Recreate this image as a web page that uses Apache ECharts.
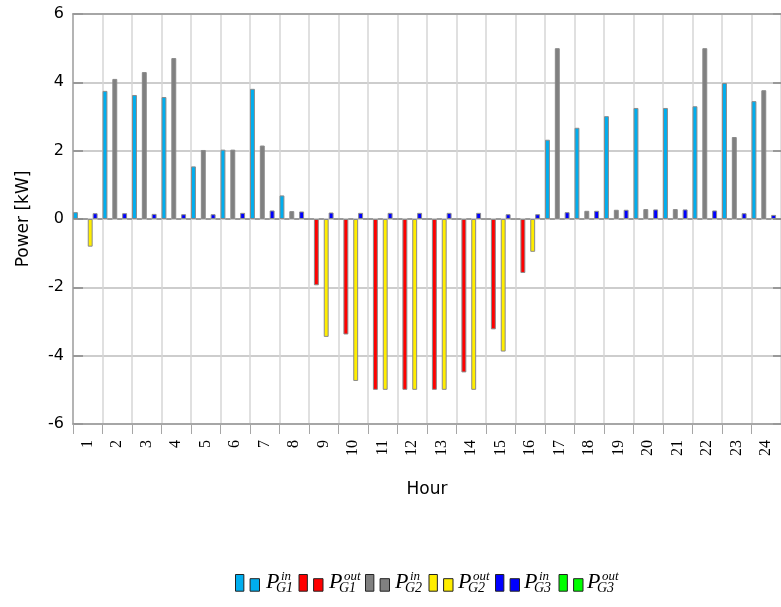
<!DOCTYPE html>
<html>
<head>
<meta charset="utf-8">
<script src="https://cdn.jsdelivr.net/npm/echarts@6/dist/echarts.min.js"></script>
<style>html,body{margin:0;padding:0;background:#fff}#c{width:781px;height:607px}</style>
</head>
<body>
<div id="c"></div>
<script>
const hours = ['1','2','3','4','5','6','7','8','9','10','11','12','13','14','15','16','17','18','19','20','21','22','23','24'];
const yTicks = [-6, -4, -2, 0, 2, 4, 6];
const seriesNames = ['PG1in', 'PG1out', 'PG2in', 'PG2out', 'PG3in', 'PG3out'];
const legendSup = ['in', 'out', 'in', 'out', 'in', 'out'];
const legendSub = ['G1', 'G1', 'G2', 'G2', 'G3', 'G3'];
const g1In  = [0.2, 3.75, 3.63, 3.57, 1.54, 2.03, 3.81, 0.69, 0, 0, 0, 0, 0, 0, 0, 0, 2.32, 2.67, 3.01, 3.25, 3.25, 3.3, 3.98, 3.45];
const g1Out = [0, 0, 0, 0, 0, 0, 0, 0, -1.94, -3.38, -5, -5, -5, -4.49, -3.23, -1.58, 0, 0, 0, 0, 0, 0, 0, 0];
const g2In  = [0, 4.1, 4.3, 4.71, 2.02, 2.03, 2.15, 0.23, 0, 0, 0, 0, 0, 0, 0, 0, 5.0, 0.24, 0.27, 0.29, 0.29, 5.0, 2.4, 3.77];
const g2Out = [-0.81, 0, 0, 0, 0, 0, 0, 0, -3.45, -4.74, -5, -5, -5, -5, -3.88, -0.96, 0, 0, 0, 0, 0, 0, 0, 0];
const g3In  = [0.17, 0.17, 0.15, 0.14, 0.14, 0.18, 0.25, 0.22, 0.19, 0.18, 0.18, 0.18, 0.18, 0.18, 0.14, 0.14, 0.2, 0.24, 0.27, 0.28, 0.28, 0.25, 0.17, 0.12];
const g3Out = [0, 0, 0, 0, 0, 0, 0, 0, 0, 0, 0, 0, 0, 0, 0, 0, 0, 0, 0, 0, 0, 0, 0, 0];

const seriesData = [g1In, g1Out, g2In, g2Out, g3In, g3Out];
const colors = ['#00aeef', '#ff0000', '#808080', '#ffee00', '#0000ff', '#00ff00'];

const chart = echarts.init(document.getElementById('c'), null, {renderer: 'canvas'});

const series = seriesNames.map((n, i) => ({
  name: n,
  type: 'bar',
  data: seriesData[i],
  barGap: '0%',
  barCategoryGap: '0%',
  itemStyle: {color: colors[i], borderColor: '#8a8a8a', borderWidth: 1},
  emphasis: {disabled: true}
}));

const yAxisCommon = {type: 'value', min: -6, max: 6, interval: 2};
const serif = 'Liberation Serif';

// legend layout: fixed text widths so the math labels can be placed over the reserved space
const legendLeft = 235, legendTop = 574;
const iconW = 24, iconH = 17, textGap = 5, itemGap = 8;
const textW = legendSup.map(s => s === 'in' ? 26 : 29);
const itemX = [];
let cx = legendLeft;
for (let i = 0; i < seriesNames.length; i++) {
  itemX.push(cx);
  cx += iconW + textGap + textW[i] + itemGap;
}
const mathText = [];
function txt(text, x, y, size) {
  return {
    type: 'text', silent: true, z: 100,
    style: {
      text: text, x: x, y: y,
      font: 'italic ' + size + 'px "' + serif + '"',
      fill: '#000',
      align: 'left', verticalAlign: 'middle',
      textAlign: 'left', textVerticalAlign: 'middle'
    }
  };
}
const midY = legendTop + 8;
for (let i = 0; i < seriesNames.length; i++) {
  const px = itemX[i] + iconW + 7;
  mathText.push(txt('P', px, midY, 22));
  mathText.push(txt(legendSup[i], px + 15, midY - 5, 13));
  mathText.push(txt(legendSub[i], px + 10, midY + 6, 14));
}

const option = {
  animation: false,
  color: colors,
  grid: {left: 73, top: 14, right: 0, bottom: 183, show: false},
  legend: {
    left: legendLeft, top: legendTop, padding: 0,
    itemWidth: iconW, itemHeight: iconH, itemGap: itemGap,
    icon: 'path://M0,0H8V16H0Z M14,4H23V16H14Z',
    itemStyle: {borderColor: '#222', borderWidth: 1},
    selectedMode: false,
    data: seriesNames,
    formatter: function (name) {
      const i = seriesNames.indexOf(name);
      return '{w' + (legendSup[i] === 'in' ? 'a' : 'b') + '| }';
    },
    textStyle: {
      fontSize: 10, lineHeight: 10, color: 'rgba(0,0,0,0)',
      rich: {
        wa: {width: 26, fontSize: 10, lineHeight: 10},
        wb: {width: 29, fontSize: 10, lineHeight: 10}
      }
    }
  },
  graphic: mathText,
  xAxis: [{
    type: 'category',
    data: hours,
    boundaryGap: true,
    name: 'Hour',
    nameLocation: 'middle',
    nameGap: 57,
    nameTextStyle: {fontFamily: 'DejaVu Sans', fontSize: 17, color: '#000'},
    axisLine: {show: true, onZero: false, lineStyle: {color: '#a6a6a6', width: 2}},
    axisTick: {show: true, inside: false, length: 10, lineStyle: {color: '#a6a6a6', width: 1}},
    axisLabel: {rotate: 90, margin: 16, fontFamily: serif, fontSize: 16, color: '#000', interval: 0},
    splitLine: {show: true, interval: 0, lineStyle: {color: '#d6d6d6', width: 1.5}}
  }, {
    type: 'category', data: hours, position: 'top',
    axisLine: {show: true, onZero: false, lineStyle: {color: '#a6a6a6', width: 2}},
    axisTick: {show: false}, axisLabel: {show: false}, splitLine: {show: false}
  }],
  yAxis: [
    Object.assign({}, yAxisCommon, {
      position: 'left',
      name: 'Power [kW]',
      nameLocation: 'middle',
      nameGap: 41,
      nameRotate: 90,
      nameTextStyle: {fontFamily: 'DejaVu Sans', fontSize: 17, color: '#000'},
      axisLine: {show: true, lineStyle: {color: '#a6a6a6', width: 1.5}},
      axisTick: {show: true, inside: true, length: 10, lineStyle: {color: '#999', width: 2}},
      axisLabel: {margin: 9, fontFamily: 'DejaVu Sans', fontSize: 16, color: '#000', customValues: yTicks},
      splitLine: {show: true, lineStyle: {color: '#bdbdbd', width: 1.5}}
    }),
    Object.assign({}, yAxisCommon, {
      position: 'right',
      axisLine: {show: false},
      axisTick: {show: true, inside: true, length: 8, lineStyle: {color: '#999', width: 2}},
      axisLabel: {show: false},
      splitLine: {show: false}
    })
  ],
  series: series
};

chart.setOption(option);
</script>
</body>
</html>
